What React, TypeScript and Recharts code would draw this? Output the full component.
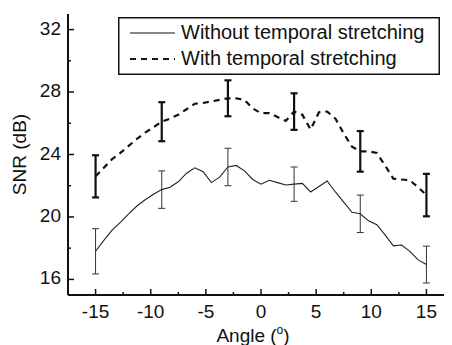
import { ComposedChart, Line, Scatter, ErrorBar, XAxis, YAxis, Legend } from "recharts";

// angles (deg) at which both curves are sampled
const angles = [
  -15, -14.25, -13.5, -12.75, -12, -11.25, -10.5, -9.75, -9, -8.25, -7.5, -6.75, -6, -5.25, -4.5, -3.75, -3,
  -2.25, -1.5, -0.75, 0, 0.75, 1.5, 2.25, 3, 3.75, 4.5, 5.25, 6, 6.75, 7.5, 8.25, 9, 9.75, 10.5, 11.25, 12,
  12.75, 13.5, 14.25, 15,
];

const withoutStretch = [
  17.8, 18.5, 19.15, 19.65, 20.2, 20.7, 21.1, 21.45, 21.75, 21.9, 22.25, 22.8, 23.15, 22.9, 22.2, 22.55, 23.2,
  23.3, 22.95, 22.4, 22.1, 22.35, 22.2, 22.05, 22.1, 22.15, 21.6, 21.95, 22.3, 21.6, 20.95, 20.3, 20.2, 19.75,
  19.5, 18.85, 18.15, 18.2, 17.8, 17.25, 16.95,
];

const withStretch = [
  22.6, 23.15, 23.7, 24.1, 24.55, 25.0, 25.4, 25.75, 26.1, 26.3, 26.55, 26.9, 27.25, 27.3, 27.4, 27.5, 27.6,
  27.6, 27.5, 26.95, 26.65, 26.65, 26.4, 26.15, 26.75, 26.55, 25.6, 26.7, 26.75, 26.3, 25.35, 24.5, 24.2, 24.2,
  24.1, 23.3, 22.45, 22.4, 22.35, 21.9, 21.4,
];

// error bars (± dB) at a subset of angles
const errAngles = [-15, -9, -3, 3, 9, 15];
const errWithout = [1.45, 1.2, 1.2, 1.1, 1.2, 1.18];
const errWith = [1.35, 1.25, 1.15, 1.17, 1.3, 1.36];

const xTicks = [-15, -12.5, -10, -7.5, -5, -2.5, 0, 2.5, 5, 7.5, 10, 12.5, 15];
const yTicks = [16, 18, 20, 22, 24, 26, 28, 30, 32];

const legendLabels = ["Without temporal stretching", "With temporal stretching"];

const data = angles.map((a, i) => ({ angle: a, without: withoutStretch[i], with: withStretch[i] }));

const errData = (vals: number[], errs: number[]) =>
  errAngles.map((a, i) => ({ angle: a, v: vals[angles.indexOf(a)], err: errs[i] }));

const FONT = '"Liberation Sans", Arial, sans-serif';
const INK = "#111";

const isMajorX = (v: number) => v % 5 === 0;
const isMajorY = (v: number) => v % 4 === 0;

function BottomTick({ x, y, payload }: any) {
  const major = isMajorX(payload.value);
  return (
    <g>
      <line x1={x} y1={y} x2={x} y2={y - (major ? 6 : 3)} stroke={INK} strokeWidth={1.5} />
      {major && (
        <text x={x} y={y + 23} textAnchor="middle" fontSize={19} fontFamily={FONT} fill={INK}>
          {payload.value}
        </text>
      )}
    </g>
  );
}

function TopTick({ x, y, payload }: any) {
  const major = isMajorX(payload.value);
  return <line x1={x} y1={y} x2={x} y2={y + (major ? 6 : 3)} stroke={INK} strokeWidth={1.5} />;
}

function LeftTick({ x, y, payload }: any) {
  const major = isMajorY(payload.value);
  return (
    <g>
      <line x1={x} y1={y} x2={x + (major ? 6 : 3)} y2={y} stroke={INK} strokeWidth={1.5} />
      {major && (
        <text x={x - 7} y={y - 1.5} textAnchor="end" dominantBaseline="central" fontSize={19} fontFamily={FONT} fill={INK}>
          {payload.value}
        </text>
      )}
    </g>
  );
}

function RightTick({ x, y, payload }: any) {
  const major = isMajorY(payload.value);
  return <line x1={x} y1={y} x2={x - (major ? 6 : 3)} y2={y} stroke={INK} strokeWidth={1.5} />;
}

function YTitle({ viewBox }: any) {
  const cx = viewBox.x + 11;
  const cy = viewBox.y + viewBox.height / 2;
  return (
    <text
      x={cx}
      y={cy}
      transform={`rotate(-90 ${cx} ${cy})`}
      textAnchor="middle"
      dominantBaseline="central"
      fontSize={19}
      fontFamily={FONT}
      fill={INK}
    >
      SNR (dB)
    </text>
  );
}

function XTitle({ viewBox }: any) {
  const cx = viewBox.x + viewBox.width / 2 - 8;
  return (
    <text x={cx} y={viewBox.y + 47} textAnchor="middle" fontSize={19} fontFamily={FONT} fill={INK}>
      Angle (
      <tspan fontSize={12} dy={-8}>
        o
      </tspan>
      <tspan dy={8}>)</tspan>
    </text>
  );
}

function LegendBox() {
  return (
    <svg width={322} height={58} style={{ display: "block" }}>
      <rect x={0.75} y={0.75} width={320.5} height={56.5} fill="#fff" stroke={INK} strokeWidth={1.5} />
      <line x1={12} y1={16} x2={57} y2={16} stroke={INK} strokeWidth={1.2} />
      <line x1={12} y1={42} x2={57} y2={42} stroke={INK} strokeWidth={2.2} strokeDasharray="6 5" />
      <text x={63} y={15.3} dominantBaseline="central" fontSize={20} fontFamily={FONT} fill={INK}>
        {legendLabels[0]}
      </text>
      <text x={63} y={41.2} dominantBaseline="central" fontSize={20} fontFamily={FONT} fill={INK}>
        {legendLabels[1]}
      </text>
    </svg>
  );
}

export default function App() {
  return (
    <div style={{ width: 444, height: 337, overflow: "hidden", background: "#fff" }}>
      <ComposedChart width={460} height={337} data={data} margin={{ top: 6, right: 14, bottom: 0, left: 0 }}>
        <XAxis
          xAxisId="b"
          dataKey="angle"
          type="number"
          domain={[-17.5, 17.5]}
          ticks={xTicks}
          interval={0}
          height={50}
          tickSize={0}
          tickMargin={0}
          tickLine={false}
          axisLine={{ stroke: INK, strokeWidth: 2 }}
          tick={<BottomTick />}
          label={<XTitle />}
        />
        <XAxis
          xAxisId="t"
          orientation="top"
          dataKey="angle"
          type="number"
          domain={[-17.5, 17.5]}
          ticks={xTicks}
          interval={0}
          height={0}
          tickSize={0}
          tickMargin={0}
          tickLine={false}
          axisLine={{ stroke: INK, strokeWidth: 2 }}
          tick={<TopTick />}
        />
        <YAxis
          yAxisId="l"
          type="number"
          domain={[15, 33]}
          ticks={yTicks}
          interval={0}
          width={60}
          tickSize={0}
          tickMargin={0}
          tickLine={false}
          axisLine={{ stroke: INK, strokeWidth: 2 }}
          tick={<LeftTick />}
          label={<YTitle />}
        />
        <YAxis
          yAxisId="r"
          orientation="right"
          type="number"
          domain={[15, 33]}
          ticks={yTicks}
          interval={0}
          width={0}
          tickSize={0}
          tickMargin={0}
          tickLine={false}
          axisLine={{ stroke: INK, strokeWidth: 2 }}
          tick={<RightTick />}
        />
        <Line
          xAxisId="b"
          yAxisId="l"
          type="linear"
          dataKey="without"
          stroke="#222"
          strokeWidth={1.1}
          dot={false}
          activeDot={false}
          isAnimationActive={false}
        />
        <Line
          xAxisId="b"
          yAxisId="l"
          type="linear"
          dataKey="with"
          stroke={INK}
          strokeWidth={2.2}
          strokeDasharray="6 5"
          dot={false}
          activeDot={false}
          isAnimationActive={false}
        />
        <Scatter
          xAxisId="b"
          yAxisId="l"
          data={errData(withoutStretch, errWithout)}
          dataKey="v"
          shape={() => <g />}
          isAnimationActive={false}
        >
          <ErrorBar dataKey="err" direction="y" width={3.5} stroke="#333" strokeWidth={1} isAnimationActive={false} />
        </Scatter>
        <Scatter
          xAxisId="b"
          yAxisId="l"
          data={errData(withStretch, errWith)}
          dataKey="v"
          shape={() => <g />}
          isAnimationActive={false}
        >
          <ErrorBar dataKey="err" direction="y" width={3.5} stroke={INK} strokeWidth={2.2} isAnimationActive={false} />
        </Scatter>
        <Legend
          layout="horizontal"
          verticalAlign="middle"
          align="center"
          wrapperStyle={{ top: 9.3, left: 110.3, width: 322, height: 58 }}
          content={() => <LegendBox />}
        />
      </ComposedChart>
    </div>
  );
}
